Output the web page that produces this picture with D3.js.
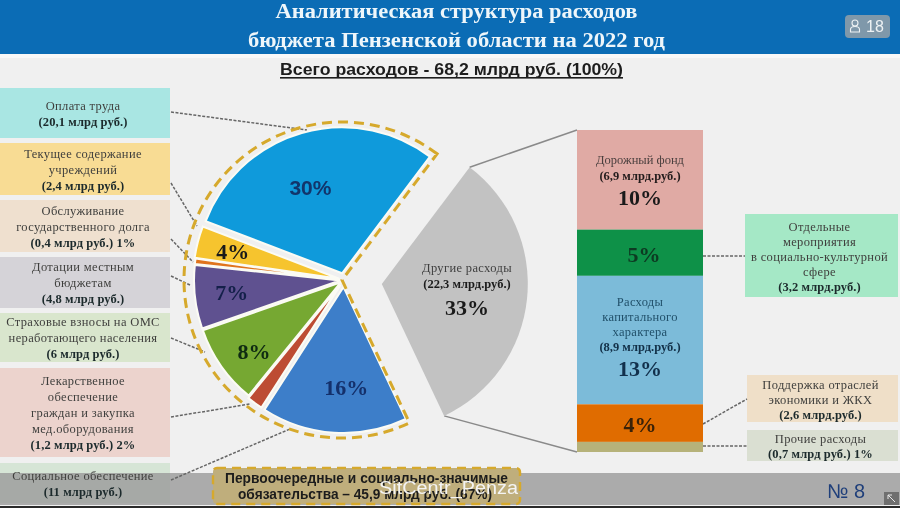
<!DOCTYPE html>
<html>
<head>
<meta charset="utf-8">
<script src="https://cdn.jsdelivr.net/npm/d3@7"></script>
<style>
  html, body { margin: 0; padding: 0; background: #f0f0f0; overflow: hidden; }
  svg { display: block; filter: blur(0.35px); }
  .serif { font-family: "Liberation Serif", serif; }
  .sans { font-family: "Liberation Sans", Arial, sans-serif; }
</style>
</head>
<body>
<div class="chart"></div>
<script>
// budget slices, the pie runs counter-clockwise from the blue one
const sliceNames = [
  ['Оплата труда'],
  ['Текущее содержание', 'учреждений'],
  ['Обслуживание', 'государственного  долга'],
  ['Дотации местным', 'бюджетам'],
  ['Страховые взносы на ОМС', 'неработающего населения'],
  ['Лекарственное', 'обеспечение', 'граждан и закупка', 'мед.оборудования'],
  ['Социальное  обеспечение'],
  ['Другие расходы']
]
const sliceAmounts = ['(20,1 млрд руб.)', '(2,4 млрд руб.)', '(0,4 млрд руб.) 1%', '(4,8 млрд руб.)', '(6 млрд руб.)', '(1,2 млрд руб.) 2%', '(11 млрд руб.)', '(22,3 млрд.руб.)']
const sliceValues = [20.1, 2.4, 0.4, 4.8, 6, 1.2, 11, 22.3]
const sliceLabels = ['30%', '4%', '', '7%', '8%', '', '16%', '33%']
const sliceColors = ['#0f9adb', '#f6c42e', '#e0741d', '#5f5190', '#76a832', '#bd4c33', '#3d7ec9', '#c2c2c2']
const labelColors = ['#12356b', '#1a1a1a', '', '#14204a', '#0f2a12', '', '#14306b', '#1a1a1a']
const boxColors = ['#a9e6e3', '#f8dc94', '#efe0cf', '#d5d3d8', '#d9e6cd', '#ecd3cd', '#d6e5d6']

// breakdown of "Другие расходы"
const otherValues = [6.9, 3.2, 8.9, 2.6, 0.7]
const otherColors = ['#e0aaa4', '#0e9148', '#7cbbd9', '#e06c00', '#b6b27a']

const width = 900
const height = 508
const deg = Math.PI / 180

const svg = d3.select('.chart').append('svg').attr('width', width).attr('height', height)

svg.append('rect').attr('width', width).attr('height', height).attr('fill', '#f0f0f0')

// header
svg.append('rect').attr('width', width).attr('height', 54).attr('fill', '#0b6cb5')
svg.append('rect').attr('y', 54).attr('width', width).attr('height', 4).attr('fill', '#f8f8f8')

function line(txt, x, y, len, size, cls, weight, fill) {
  let t = svg.append('text')
    .attr('class', cls)
    .attr('x', x)
    .attr('y', y)
    .attr('text-anchor', 'middle')
    .attr('font-size', size)
    .attr('font-weight', weight)
    .attr('fill', fill)
    .text(txt)
  if (len) t.attr('textLength', len).attr('lengthAdjust', 'spacingAndGlyphs')
  return t
}

line('Аналитическая структура расходов', 456.5, 18, 362, 20, 'serif', 'bold', '#eef6fa')
line('бюджета Пензенской области на 2022 год', 456.5, 47, 417, 20, 'serif', 'bold', '#eef6fa')
line('Всего расходов - 68,2 млрд руб. (100%)', 451.5, 75, 343, 17, 'sans', 'bold', '#1d1d1d')
svg.append('rect').attr('x', 280).attr('y', 77).attr('width', 343).attr('height', 1.6).attr('fill', '#1d1d1d')

// viewer badge
svg.append('rect').attr('x', 845).attr('y', 15).attr('width', 45).attr('height', 23).attr('rx', 4).attr('fill', '#7f98aa')
svg.append('circle').attr('cx', 855).attr('cy', 23).attr('r', 3).attr('fill', 'none').attr('stroke', '#eef2f4').attr('stroke-width', 1.1)
svg.append('path').attr('d', 'M850.5 32v-2.5q0-3 4.5-3t4.5 3v2.5z').attr('fill', 'none').attr('stroke', '#eef2f4').attr('stroke-width', 1.1)
line('18', 875, 32, 0, 16, 'sans', 'normal', '#eef2f4')

// left boxes
const boxTops = [88, 143, 200, 257, 313, 368, 463]
const boxBottoms = [138, 195, 252, 308, 362, 457, 503]
const boxRight = 170

boxTops.forEach((top, i) => {
  svg.append('rect').attr('y', top).attr('width', boxRight).attr('height', boxBottoms[i] - top).attr('fill', boxColors[i])
})

// right boxes
const sideBoxes = [
  { x: 745, y0: 214, y1: 297, fill: '#a5e8c6', lines: ['Отдельные', 'мероприятия', 'в социально-культурной', 'сфере'], bold: '(3,2 млрд.руб.)' },
  { x: 747, y0: 375, y1: 422, fill: '#efdfc8', lines: ['Поддержка отраслей', 'экономики и ЖКХ'], bold: '(2,6 млрд.руб.)' },
  { x: 747, y0: 430, y1: 461, fill: '#dadfd2', lines: ['Прочие расходы'], bold: '(0,7 млрд руб.) 1%' }
]
sideBoxes.forEach((b) => {
  svg.append('rect').attr('x', b.x).attr('y', b.y0).attr('width', 898 - b.x).attr('height', b.y1 - b.y0).attr('fill', b.fill)
})

// bottom strip sits over the last box
svg.append('rect').attr('y', 473).attr('width', width).attr('height', 32).attr('fill', '#9a9a9a').attr('opacity', 0.8)
svg.append('rect').attr('y', 506).attr('width', width).attr('height', 2).attr('fill', '#2a2a2a')

function textBlock(lines, bold, cx, cy, lh) {
  const all = lines.concat([bold])
  all.forEach((txt, i) => {
    const isBold = i === all.length - 1
    line(txt, cx, cy + (i - (all.length - 1) / 2) * lh + 4, 0, 12.5, 'serif', isBold ? 'bold' : 'normal', isBold ? '#1c2a2c' : '#3f3f3d')
      .attr('letter-spacing', isBold ? 0.1 : 0.35)
  })
}

boxTops.forEach((top, i) => {
  textBlock(sliceNames[i], sliceAmounts[i], 83, (top + boxBottoms[i]) / 2 + 0.5, 16)
})
sideBoxes.forEach((b) => {
  textBlock(b.lines, b.bold, (b.x + 898) / 2 - 2, (b.y0 + b.y1) / 2 + 1, 15)
})

// dashed leaders
const leaders = [
  [171, 112, 307, 130], [171, 183, 197, 226], [171, 239, 193, 262], [171, 276, 190, 285],
  [171, 338, 205, 352], [171, 417, 250, 404], [171, 480, 290, 429],
  [703, 256, 745, 256], [703, 424, 747, 399], [703, 446, 747, 446]
]
svg.selectAll('.leader').data(leaders).enter().append('line')
  .attr('class', 'leader')
  .attr('x1', (d) => d[0]).attr('y1', (d) => d[1]).attr('x2', (d) => d[2]).attr('y2', (d) => d[3])
  .attr('stroke', '#666').attr('stroke-width', 1.5).attr('stroke-dasharray', '3 1.5')

// pie
const cx = 344
const cy = 280
const radius = 146

const pie = d3.pie().sort(null).startAngle(37 * deg).endAngle((37 - 360) * deg)
const arcs = pie(sliceValues)
const arc = d3.arc().innerRadius(0).outerRadius(radius)
const explode = [7, 5, 4, 4, 4, 6, 7, 38]
const labelR = [98, 115, 0, 113, 115, 0, 108, 0]
const labelTurn = [-4, 0, 0, 0, -3.5, 0, -5, 0]

function offset(d, i) {
  const mid = (d.startAngle + d.endAngle) / 2
  return [Math.sin(mid) * explode[i], -Math.cos(mid) * explode[i]]
}

// leader lines to the stacked column go behind the grey slice
const greyOff = offset(arcs[7], 7)
const corner = (a) => [cx + greyOff[0] + Math.sin(a) * radius, cy + greyOff[1] - Math.cos(a) * radius]

const y = d3.scaleLinear().domain([0, d3.sum(otherValues)]).range([130, 452])
const barX = 577
const barW = 126

svg.append('line')
  .attr('x1', corner(arcs[7].endAngle)[0]).attr('y1', corner(arcs[7].endAngle)[1])
  .attr('x2', barX).attr('y2', y(0))
  .attr('stroke', '#8a8a8a').attr('stroke-width', 1.5)
svg.append('line')
  .attr('x1', corner(arcs[7].startAngle)[0]).attr('y1', corner(arcs[7].startAngle)[1])
  .attr('x2', barX).attr('y2', y(d3.sum(otherValues)))
  .attr('stroke', '#8a8a8a').attr('stroke-width', 1.5)

svg.selectAll('.slice').data(arcs).enter().append('path')
  .attr('class', 'slice')
  .attr('d', arc)
  .attr('transform', (d, i) => {
    const o = offset(d, i)
    return `translate(${cx + o[0]},${cy + o[1]})`
  })
  .attr('fill', (d, i) => sliceColors[i])
  .attr('stroke', (d, i) => (i === 7 ? 'none' : '#fbfbf4'))
  .attr('stroke-width', 2)

// dashed frame around the priority slices
const frameArc = d3.arc().innerRadius(0).outerRadius(158)
svg.append('path')
  .attr('d', frameArc({ startAngle: arcs[0].startAngle, endAngle: arcs[6].endAngle }))
  .attr('transform', `translate(${cx - 2},${cy})`)
  .attr('fill', 'none')
  .attr('stroke', '#d6a92c')
  .attr('stroke-width', 3)
  .attr('stroke-dasharray', '10 6')

arcs.forEach((d, i) => {
  if (!labelR[i]) return
  const mid = (d.startAngle + d.endAngle) / 2 + labelTurn[i] * deg
  line(sliceLabels[i], cx + Math.sin(mid) * labelR[i], cy - Math.cos(mid) * labelR[i] + 7.5, 0, i === 0 ? 21 : 22, i === 0 ? 'sans' : 'serif', 'bold', labelColors[i])
})

line(sliceNames[7][0], 467, 272, 0, 12.5, 'serif', 'normal', '#3f3f3f').attr('letter-spacing', 0.35)
line(sliceAmounts[7], 467, 288, 0, 12.5, 'serif', 'bold', '#1c1c1c')
line(sliceLabels[7], 467, 315, 0, 22, 'serif', 'bold', '#1a1a1a')

// stacked column
let acc = 0
const stack = otherValues.map((v) => {
  const s = { y0: y(acc), y1: y(acc + v) }
  acc += v
  return s
})
svg.selectAll('.seg').data(stack).enter().append('rect')
  .attr('class', 'seg')
  .attr('x', barX).attr('width', barW)
  .attr('y', (d) => d.y0)
  .attr('height', (d) => d.y1 - d.y0)
  .attr('fill', (d, i) => otherColors[i])

const barMid = barX + barW / 2
line('Дорожный фонд', barMid, 164, 0, 12.5, 'serif', 'normal', '#4a3f3e')
line('(6,9 млрд.руб.)', barMid, 180, 0, 12.5, 'serif', 'bold', '#241c1c')
line('10%', barMid, 205, 0, 22, 'serif', 'bold', '#1a1a1a')
line('5%', barMid + 4, 262, 0, 22, 'serif', 'bold', '#0d3a22')
line('Расходы', barMid, 306, 0, 12.5, 'serif', 'normal', '#21506a').attr('letter-spacing', 0.3)
line('капитального', barMid, 321, 0, 12.5, 'serif', 'normal', '#21506a').attr('letter-spacing', 0.3)
line('характера', barMid, 336, 0, 12.5, 'serif', 'normal', '#21506a').attr('letter-spacing', 0.3)
line('(8,9 млрд.руб.)', barMid, 351, 0, 12.5, 'serif', 'bold', '#123048')
line('13%', barMid, 376, 0, 22, 'serif', 'bold', '#12304c')
line('4%', barMid, 432, 0, 22, 'serif', 'bold', '#3a2208')

// priority note, watermark, slide number
svg.append('rect')
  .attr('x', 213).attr('y', 468).attr('width', 307).attr('height', 36).attr('rx', 4)
  .attr('fill', '#bfae7c').attr('stroke', '#d6a92c').attr('stroke-width', 2.4).attr('stroke-dasharray', '9 6')
line('Первоочередные и социально-значимые', 366.5, 483, 283, 14, 'sans', 'bold', '#1c1c1c')
line('обязательства – 45,9 млрд руб. (67%)', 365, 499, 254, 14, 'sans', 'bold', '#1c1c1c')
line('SitCentr_Penza', 448.5, 494, 139, 18, 'sans', 'normal', '#f4f4f4')
line('№ 8', 846, 498, 38, 20, 'sans', 'normal', '#1f3f7a')

svg.append('rect').attr('x', 884).attr('y', 492).attr('width', 15).attr('height', 13).attr('fill', '#6f6f6f')
svg.append('path').attr('d', 'M888 495h4M888 495v4M888 495l7 7').attr('stroke', '#e8e8e8').attr('stroke-width', 1).attr('fill', 'none')
</script>
</body>
</html>
